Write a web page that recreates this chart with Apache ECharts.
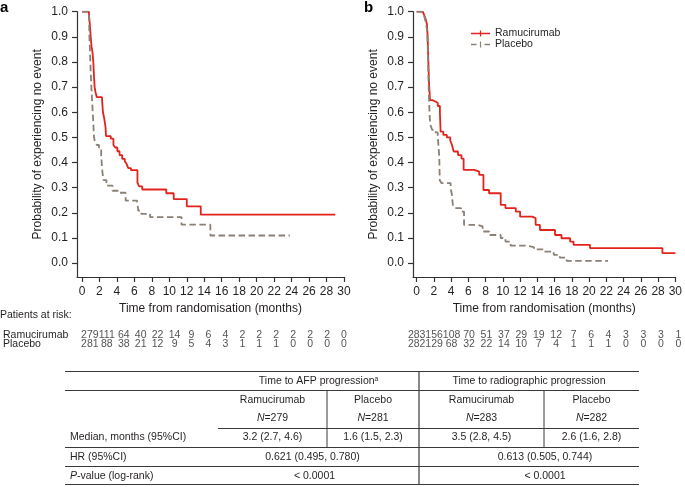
<!DOCTYPE html>
<html><head><meta charset="utf-8">
<script src="https://cdn.jsdelivr.net/npm/echarts@6/dist/echarts.min.js"></script>
<style>html,body{margin:0;padding:0;background:#fff}#c{width:685px;height:487px}</style>
</head><body><div id="c"></div>
<script>
// ---------- data ----------
const xTicks = [0,2,4,6,8,10,12,14,16,18,20,22,24,26,28,30];
const yTicks = [0,0.1,0.2,0.3,0.4,0.5,0.6,0.7,0.8,0.9,1.0];
const arms = ['Ramucirumab','Placebo'];

const afpRamu = [[0,1],[0.8,0.99],[0.9,0.95],[1.0,0.9],[1.1,0.86],[1.2,0.84],[1.3,0.8],[1.38,0.74],[1.45,0.7],[1.55,0.68],[1.7,0.66],[2.3,0.65],[2.4,0.6],[2.55,0.575],[2.7,0.54],[2.75,0.505],[3.3,0.495],[3.6,0.47],[3.8,0.46],[4.05,0.445],[4.3,0.43],[4.6,0.415],[4.9,0.405],[5.1,0.395],[5.3,0.378],[5.6,0.37],[6.35,0.32],[6.55,0.305],[6.9,0.293],[9.65,0.278],[10.5,0.255],[12.0,0.226],[13.6,0.193],[29.0,0.193]];
const afpPlac = [[0,1],[0.8,0.99],[0.85,0.9],[0.92,0.84],[1.0,0.76],[1.1,0.68],[1.25,0.59],[1.38,0.5],[1.5,0.48],[1.7,0.47],[1.95,0.46],[2.2,0.43],[2.3,0.375],[2.45,0.33],[2.8,0.308],[3.5,0.288],[4.1,0.28],[5.0,0.249],[6.3,0.242],[6.45,0.209],[6.8,0.196],[7.8,0.183],[11.4,0.153],[14.7,0.11],[23.8,0.11]];
const radRamu = [[0,1],[0.7,0.995],[0.9,0.985],[1.05,0.97],[1.2,0.95],[1.28,0.9],[1.33,0.84],[1.38,0.78],[1.43,0.72],[1.5,0.68],[1.55,0.648],[1.8,0.643],[2.2,0.637],[2.45,0.625],[2.7,0.6],[2.78,0.523],[3.1,0.51],[3.5,0.5],[3.9,0.488],[4.1,0.47],[4.3,0.444],[4.8,0.43],[5.2,0.416],[5.45,0.371],[6.68,0.364],[7.26,0.351],[7.75,0.291],[8.4,0.278],[9.75,0.232],[10.3,0.219],[11.5,0.205],[12.0,0.185],[13.4,0.179],[13.8,0.152],[14.3,0.132],[16.05,0.112],[16.8,0.099],[17.8,0.086],[18.2,0.073],[20.1,0.06],[28.5,0.04],[30,0.04]];
const radPlac = [[0,1],[0.7,0.995],[0.9,0.98],[1.05,0.96],[1.2,0.93],[1.28,0.87],[1.33,0.8],[1.38,0.72],[1.45,0.64],[1.52,0.58],[1.6,0.55],[1.8,0.53],[2.2,0.52],[2.45,0.505],[2.63,0.42],[2.68,0.33],[2.9,0.318],[3.95,0.298],[4.1,0.27],[4.2,0.232],[4.4,0.219],[5.15,0.205],[5.5,0.152],[7.1,0.146],[7.65,0.126],[8.4,0.112],[9.75,0.1],[10.3,0.086],[10.9,0.07],[12.6,0.064],[13.6,0.055],[14.7,0.046],[15.9,0.033],[16.6,0.022],[17.4,0.009],[22.2,0.009]];

const riskMonths = [0,2,4,6,8,10,12,14,16,18,20,22,24,26,28,30];
const afpRamuRisk = [279,111,64,40,22,14,9,6,4,2,2,2,2,2,2,0];
const afpPlacRisk = [281,88,38,21,12,9,5,4,3,1,1,1,0,0,0,0];
const radRamuRisk = [283,156,108,70,51,37,29,19,12,7,6,4,3,3,3,1];
const radPlacRisk = [282,129,68,32,22,14,10,7,4,1,1,1,0,0,0,0];

const tblHeads = ['Time to AFP progression','Time to radiographic progression'];
const tblArms = ['Ramucirumab','Placebo','Ramucirumab','Placebo'];
const tblN = [279,281,283,282];
const tblMedian = ['3.2 (2.7, 4.6)','1.6 (1.5, 2.3)','3.5 (2.8, 4.5)','2.6 (1.6, 2.8)'];
const tblHR = ['0.621 (0.495, 0.780)','0.613 (0.505, 0.744)'];
const tblP = ['< 0.0001','< 0.0001'];
const tblRows = ['Median, months (95%CI)','HR (95%CI)','P-value (log-rank)'];

// ---------- styling ----------
const FONT = '"Liberation Sans", Arial, Helvetica, sans-serif';
const TXT = '#231f20';
const RED = '#e3231b';
const GRAY = '#8a8076';
const AX = '#333333';

const chart = echarts.init(document.getElementById('c'), null, {renderer:'canvas'});

function plotX(idx, minX){
  return {
    gridIndex: idx, type:'value', min:minX, max:30,
    axisLine:{show:true, onZero:false, lineStyle:{color:AX, width:1.2}},
    axisTick:{show:true, length:5, customValues:xTicks, lineStyle:{color:AX, width:1.2}},
    axisLabel:{show:true, customValues:xTicks, margin:9, color:TXT, fontSize:12, fontFamily:FONT},
    splitLine:{show:false},
    name:'Time from randomisation (months)', nameLocation:'middle', nameGap:23,
    nameTextStyle:{color:TXT, fontSize:12, fontFamily:FONT}
  };
}
function plotY(idx){
  return {
    gridIndex: idx, type:'value', min:-0.055, max:1.0,
    axisLine:{show:true, onZero:false, lineStyle:{color:AX, width:1.2}},
    axisTick:{show:true, length:5, customValues:yTicks, lineStyle:{color:AX, width:1.2}},
    axisLabel:{show:true, customValues:yTicks, margin:9, color:TXT, fontSize:12, fontFamily:FONT,
      formatter:v=>v.toFixed(1)},
    splitLine:{show:false},
    name:'Probability of experiencing no event', nameLocation:'middle', nameGap:33,
    nameTextStyle:{color:TXT, fontSize:12, fontFamily:FONT}
  };
}
function riskX(idx, minX){
  return {gridIndex:idx, type:'value', min:minX, max:30, show:false};
}
function riskY(idx, showLabels){
  return {gridIndex:idx, type:'category', data:arms, inverse:true,
    axisLine:{show:false}, axisTick:{show:false}, splitLine:{show:false},
    axisLabel:{show:showLabels, interval:0, hideOverlap:false, align:'left', margin:82, color:TXT, fontSize:10.5, fontFamily:FONT}};
}
function km(name, data, xi, color, dashed){
  return {type:'line', name:name, xAxisIndex:xi, yAxisIndex:xi, data:data, step:'end',
    symbol:'none', showSymbol:false, silent:true,
    lineStyle:{color:color, width:1.8, type: dashed ? [6.5,3.5] : 'solid'},
    itemStyle:{color:color}};
}
function risk(arm, counts, xi){
  return {type:'scatter', xAxisIndex:xi, yAxisIndex:xi, symbolSize:1, silent:true,
    itemStyle:{color:'rgba(0,0,0,0)'},
    data: riskMonths.map((m,i)=>[m, arm, counts[i]]),
    labelLayout:{hideOverlap:false},
    label:{show:true, position:'inside', formatter:p=>String(p.value[2]), color:TXT, fontSize:10.5, fontFamily:FONT}};
}

// ---------- table graphic ----------
const g = [];
function txt(s, x, y, align, rich){
  const st = {text:s, x:x, y:y, align:align||'center', verticalAlign:'middle', fill:TXT,
    font:'10.5px ' + FONT};
  if (rich) st.rich = rich;
  g.push({type:'text', silent:true, style:st});
}
function ln(x1,y1,x2,y2,w){
  g.push({type:'line', silent:true, shape:{x1,y1,x2,y2}, style:{stroke:'#3a3a3a', lineWidth:w||1}});
}
const tL = 65, tR = 639, c1 = 218, c2 = 327, c3 = 419, c4 = 544;
const yTop = 371.5, y1 = 390.5, y2 = 428.5, y3 = 447.5, y4 = 466.5, y5 = 484.5;
ln(tL,yTop,tR,yTop,1.2); ln(tL,y1,tR,y1,1.2); ln(c1,y2,tR,y2,1.2);
ln(tL,y3,tR,y3,1.2); ln(tL,y4,tR,y4,1.2); ln(tL,y5,tR,y5,1.2);
ln(c3,yTop,c3,y5,1.2); ln(c2,y1,c2,y3,1); ln(c4,y1,c4,y3,1);
const sup = {n:{fontSize:10.5, fontFamily:FONT, fill:TXT}, s:{fontSize:6.5, fontFamily:FONT, fill:TXT, verticalAlign:'top', padding:[0,0,5,0]}};
txt('{n|' + tblHeads[0] + '}{s|a}', (c1+c3)/2, 381.5, 'center', sup);
txt(tblHeads[1], (c3+tR)/2, 381.5);
const colC = [(c1+c2)/2, (c2+c3)/2, (c3+c4)/2, (c4+tR)/2];
const ital = {i:{fontStyle:'italic', fontSize:10.5, fontFamily:FONT, fill:TXT}};
tblArms.forEach((a,i)=>{
  txt(a, colC[i], 400);
  txt('{i|N}=' + tblN[i], colC[i], 418.5, 'center', ital);
  txt(tblMedian[i], colC[i], 437.5);
});
txt(tblRows[0], 70, 437.5, 'left');
txt(tblRows[1], 70, 457, 'left');
txt('{i|P}' + tblRows[2].slice(1), 70, 476, 'left', ital);
txt(tblHR[0], (c1+c3)/2 - 6, 457); txt(tblHR[1], (c3+tR)/2 + 16, 457);
txt(tblP[0], (c1+c3)/2 - 4, 476); txt(tblP[1], (c3+tR)/2 + 16, 476);

// panel letters and at-risk title
g.push({type:'text', silent:true, style:{text:'a', x:0, y:8, verticalAlign:'middle', fill:'#000', font:'bold 15px ' + FONT}});
g.push({type:'text', silent:true, style:{text:'b', x:364, y:8, verticalAlign:'middle', fill:'#000', font:'bold 15px ' + FONT}});
g.push({type:'text', silent:true, style:{text:'Patients at risk:', x:0, y:315, verticalAlign:'middle', fill:TXT, font:'10.5px ' + FONT}});

const option = {
  animation:false,
  backgroundColor:'#fff',
  textStyle:{fontFamily:FONT},
  grid:[
    {left:77, right:685-344, top:11.7, bottom:487-277},
    {left:413, right:685-678.3, top:11.7, bottom:487-277},
    {left:77, right:685-344, top:331, height:17},
    {left:413, right:685-678.3, top:331, height:17}
  ],
  xAxis:[plotX(0,-0.57), plotX(1,-0.42), riskX(2,-0.57), riskX(3,-0.42)],
  yAxis:[plotY(0), plotY(1), riskY(2,true), riskY(3,false)],
  legend:{
    show:true, orient:'vertical', left:471, top:28, padding:0, itemWidth:19, itemHeight:6, itemGap:0,
    textStyle:{color:TXT, fontSize:10.5, fontFamily:FONT, lineHeight:11},
    data:[
      {name:'Ramucirumab', icon:'path://M0,2.2H8.9V0H10.1V2.2H19V3.8H10.1V6H8.9V3.8H0Z', itemStyle:{color:RED}},
      {name:'Placebo', icon:'path://M0,2.2H5.5V3.8H0Z M8.9,0H10.1V6H8.9Z M13.5,2.2H19V3.8H13.5Z', itemStyle:{color:GRAY}}
    ]
  },
  graphic:g,
  series:[
    km('Ramucirumab', afpRamu, 0, RED, false),
    km('Placebo', afpPlac, 0, GRAY, true),
    km('Ramucirumab', radRamu, 1, RED, false),
    km('Placebo', radPlac, 1, GRAY, true),
    risk('Ramucirumab', afpRamuRisk, 2),
    risk('Placebo', afpPlacRisk, 2),
    risk('Ramucirumab', radRamuRisk, 3),
    risk('Placebo', radPlacRisk, 3)
  ]
};
chart.setOption(option);
</script>
</body></html>
